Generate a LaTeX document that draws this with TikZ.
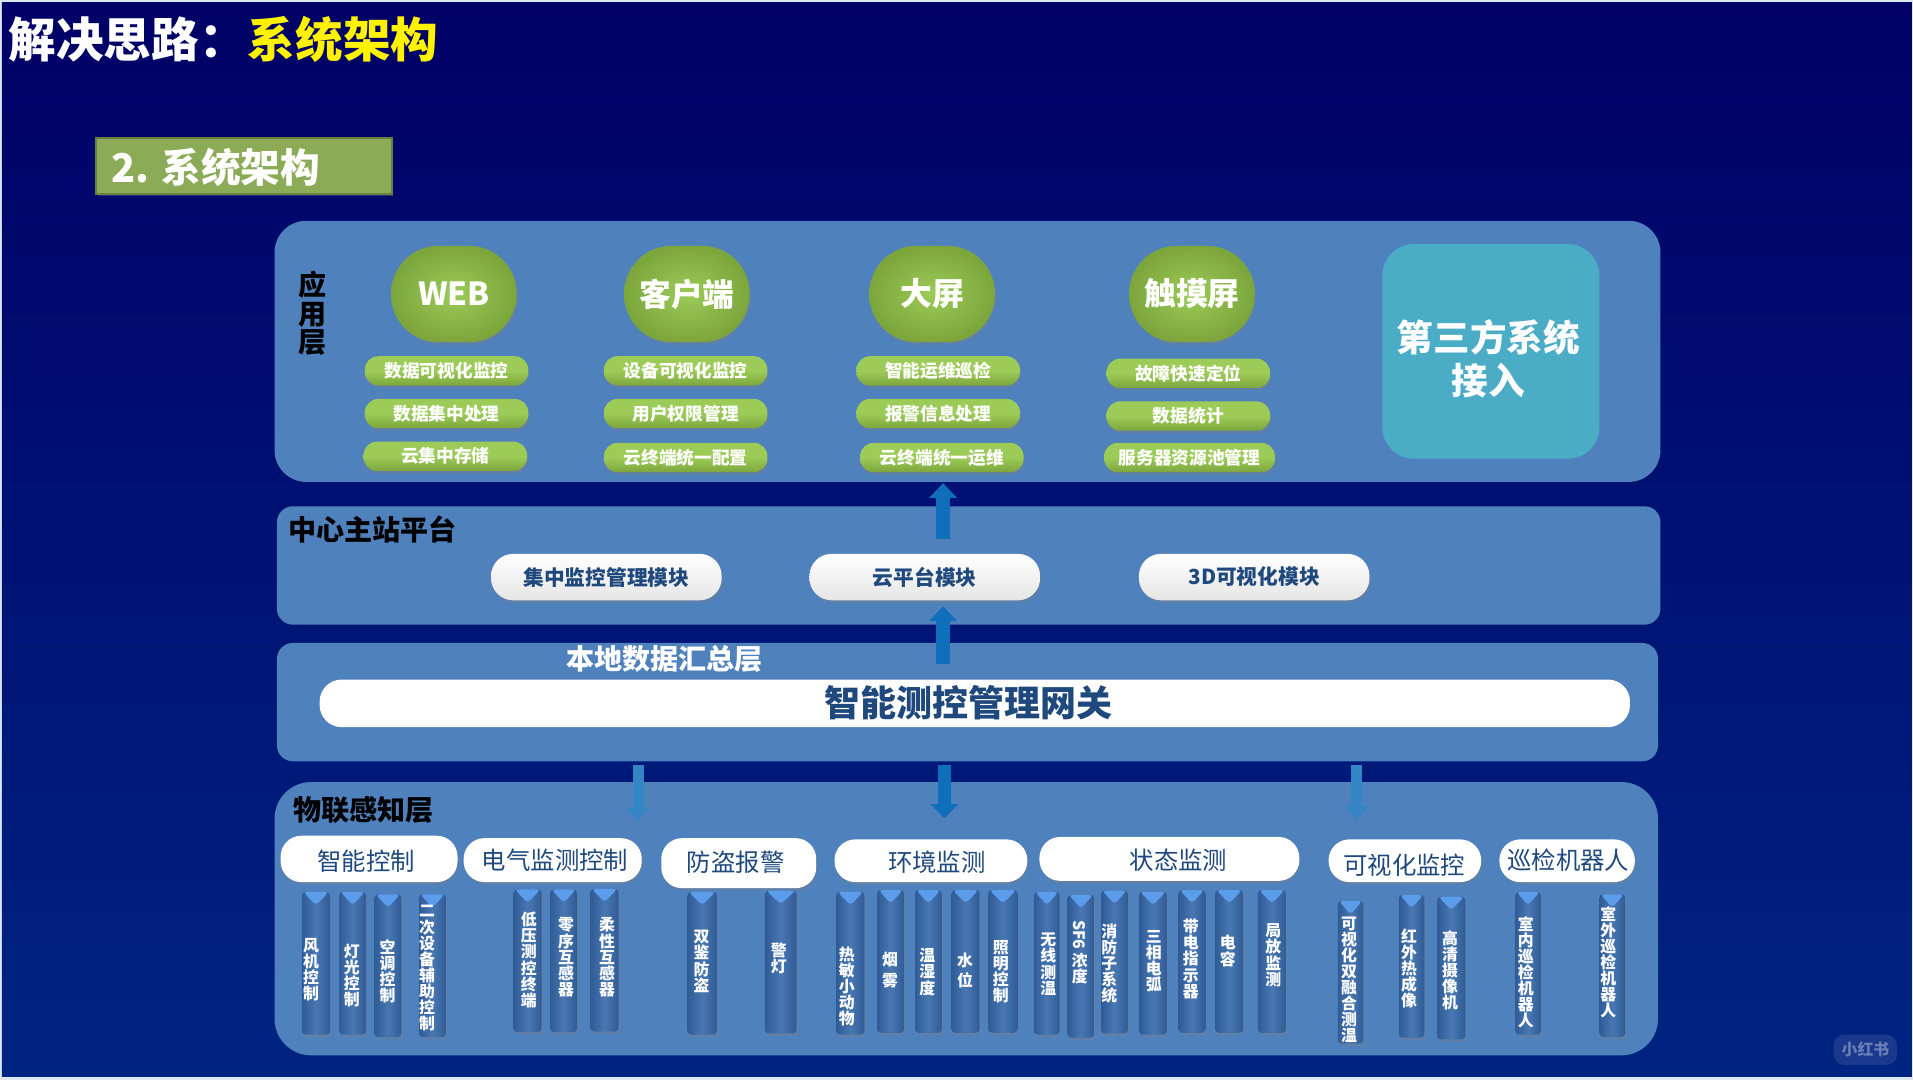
\documentclass[tikz,border=0pt]{standalone}
\usepackage{fontspec}
\setmainfont{Noto Sans CJK SC}
\usepackage{graphicx}
\usetikzlibrary{shapes.geometric, shadows, calc, arrows.meta}

\definecolor{pageEdge}{HTML}{DCE7F0}
\definecolor{navyTop}{HTML}{000066}
\definecolor{navyBottom}{HTML}{002482}
\definecolor{panelBlue}{HTML}{4F81BD}
\definecolor{tealBox}{HTML}{4BACC6}
\definecolor{titleGreen}{HTML}{8CAB57}
\definecolor{greenLight}{HTML}{9CCB58}
\definecolor{greenDark}{HTML}{7CA63C}
\definecolor{inkBlue}{HTML}{1F497D}
\definecolor{arrowBlue}{HTML}{0F6FBA}
\definecolor{barEdge}{HTML}{305C96}
\definecolor{barMid}{HTML}{4877B2}
\definecolor{tipBlue}{HTML}{5B9DEB}

\tikzset{
    panel/.style={fill=panelBlue, inner sep=0pt},
    glow/.style={drop shadow={shadow xshift=1pt, shadow yshift=-2pt, opacity=0.35}},
    bubble/.style={rounded corners=39pt, inner sep=0pt, minimum width=103pt, minimum height=79pt, inner color=greenLight, outer color=greenDark, text=white, font=\fontsize{26}{28}\selectfont\bfseries, glow},
    feature/.style={rounded corners=11pt, inner sep=0pt, minimum width=134pt, minimum height=24pt, top color=greenLight, bottom color=greenDark, middle color=greenLight, text=white, font=\fontsize{14.5}{16}\selectfont\bfseries, glow},
    module/.style={rounded corners=18pt, inner sep=0pt, minimum width=189pt, minimum height=38pt, top color=white, bottom color=white!90!black, text=inkBlue, font=\fontsize{17}{19}\selectfont\bfseries, glow},
    category/.style={rounded corners=17pt, inner sep=0pt, fill=white, glow},
    catlabel/.style={inner sep=0pt, text=inkBlue, font=\fontsize{20}{22}\selectfont},
    layername/.style={inner sep=0pt, text=black, font=\fontsize{23}{25}\selectfont\bfseries},
    vbar/.style={rectangle, rounded corners=3pt, inner sep=0pt, minimum height=117pt, left color=barEdge, right color=barEdge, middle color=barMid, glow,
        path picture={\fill[tipBlue] ($(path picture bounding box.north west)+(1,0)$) -- ($(path picture bounding box.north east)+(-1,0)$) -- ($(path picture bounding box.north)+(0,11)$) -- cycle;}},
    vtext/.style={inner sep=0pt, align=center, text=white, font=\fontsize{13}{13.2}\selectfont\bfseries},
    bigarrow/.style={draw=arrowBlue, line width=11pt, -{Triangle[width=22pt,length=12pt]}},
    thinarrow/.style={draw=arrowBlue!85!white, line width=9pt, -{Triangle[width=18pt,length=11pt]}}
}

\begin{document}
\begin{tikzpicture}[x=1pt, y=-1pt]
    \useasboundingbox (0,0) rectangle (1568,885.25);
    \fill[pageEdge] (0,0) rectangle (1568,885.25);
    \shade[top color=navyTop, bottom color=navyBottom] (1.5,2) rectangle (1567,882);

    % title
    \node[anchor=west, inner sep=0pt, text=white, font=\fontsize{39}{42}\selectfont\bfseries] (titleA) at (7,32) {解决思路：};
    \node[anchor=west, inner sep=0pt, text=yellow, font=\fontsize{39}{42}\selectfont\bfseries] (titleB) at (203,32) {系统架构};
    \node[draw=titleGreen!75!black, line width=1.5pt, fill=titleGreen, inner sep=0pt, minimum width=242pt, minimum height=46pt, glow] (secBox) at (200,136) {};
    \node[anchor=west, inner sep=0pt, text=white, font=\fontsize{32.5}{34}\selectfont\bfseries] (secText) at (91,137) {2. 系统架构};

    % layers
    \node[panel, rounded corners=26pt, minimum width=1136pt, minimum height=214pt] (appLayer) at (793,288) {};
    \node[panel, rounded corners=13pt, minimum width=1134pt, minimum height=97pt] (hubLayer) at (794,463.5) {};
    \node[panel, rounded corners=13pt, minimum width=1132pt, minimum height=97pt] (localLayer) at (793,575.5) {};
    \node[panel, rounded corners=30pt, minimum width=1134pt, minimum height=224pt] (iotLayer) at (792,753) {};

    % application layer
    \node[layername, align=center, font=\fontsize{23}{23.5}\selectfont\bfseries] (appName) at (256,257) {应\\用\\层};
    \node[bubble] (web) at (372,241) {WEB};
    \node[bubble] (client) at (563,241) {客户端};
    \node[bubble] (screen) at (764,241) {大屏};
    \node[bubble] (touch) at (977,241) {触摸屏};
    \node[feature] (webA) at (366,304) {数据可视化监控};
    \node[feature] (webB) at (366,339) {数据集中处理};
    \node[feature] (webC) at (365,374) {云集中存储};
    \node[feature] (clientA) at (562,304) {设备可视化监控};
    \node[feature] (clientB) at (562,339) {用户权限管理};
    \node[feature] (clientC) at (562,375) {云终端统一配置};
    \node[feature] (screenA) at (769,304) {智能运维巡检};
    \node[feature] (screenB) at (769,339) {报警信息处理};
    \node[feature] (screenC) at (772,375) {云终端统一运维};
    \node[feature] (touchA) at (974,306) {故障快速定位};
    \node[feature] (touchB) at (974,341) {数据统计};
    \node[feature, minimum width=140pt] (touchC) at (975,375) {服务器资源池管理};
    \node[fill=tealBox, rounded corners=26pt, inner sep=0pt, minimum width=178pt, minimum height=176pt] (thirdBox) at (1222,288) {};
    \node[inner sep=0pt, align=center, text=white, font=\fontsize{30}{35}\selectfont\bfseries] (thirdText) at (1220,294) {第三方系统\\接入};

    % center platform
    \node[layername, anchor=west] (hubName) at (236,434) {中心主站平台};
    \node[module] (monitor) at (497,473) {集中监控管理模块};
    \node[module] (cloud) at (758,473) {云平台模块};
    \node[module] (threeD) at (1028,473) {3D可视化模块};

    % local gateway
    \node[layername, anchor=west, text=white] (localName) at (464,540) {本地数据汇总层};
    \node[fill=white, rounded corners=18pt, inner sep=0pt, minimum width=1074pt, minimum height=39pt] (gateway) at (799,576.5) {};
    \node[inner sep=0pt, text=inkBlue, font=\fontsize{29.5}{31}\selectfont\bfseries] (gatewayText) at (794,576) {智能测控管理网关};

    % arrows
    \coordinate (upA) at (773,442);
    \coordinate (upAend) at (773,396);
    \coordinate (upB) at (773,544);
    \coordinate (upBend) at (773,497);
    \coordinate (downA) at (523,627);
    \coordinate (downAend) at (523,673);
    \coordinate (downB) at (774,627);
    \coordinate (downBend) at (774,671);
    \coordinate (downC) at (1112,627);
    \coordinate (downCend) at (1112,672);
    \draw[bigarrow] (upA) -- (upAend);
    \draw[bigarrow] (upB) -- (upBend);
    \draw[thinarrow] (downA) -- (downAend);
    \draw[bigarrow] (downB) -- (downBend);
    \draw[thinarrow] (downC) -- (downCend);

    % sensing layer
    \node[layername, anchor=west] (iotName) at (240,664) {物联感知层};
    \node[category, minimum width=145pt, minimum height=38pt] (catA) at (302.5,704) {};
    \node[category, minimum width=146pt, minimum height=36pt] (catB) at (453,705) {};
    \node[category, minimum width=127pt, minimum height=41pt] (catC) at (605.5,707.5) {};
    \node[category, minimum width=158pt, minimum height=35pt] (catD) at (763,705.5) {};
    \node[category, minimum width=213pt, minimum height=36pt] (catE) at (958.5,704) {};
    \node[category, minimum width=125pt, minimum height=35pt] (catF) at (1151.5,705.5) {};
    \node[category, minimum width=111pt, minimum height=35pt] (catG) at (1284.5,705.5) {};
    \node[catlabel] (catAt) at (300,706) {智能控制};
    \node[catlabel] (catBt) at (455,705) {电气监测控制};
    \node[catlabel] (catCt) at (603,707) {防盗报警};
    \node[catlabel] (catDt) at (768,707) {环境监测};
    \node[catlabel] (catEt) at (966,705) {状态监测};
    \node[catlabel] (catFt) at (1151,709) {可视化监控};
    \node[catlabel] (catGt) at (1285.5,705) {巡检机器人};

    % bars
    \node[vbar, minimum width=23pt] (barA) at (259,789.5) {};
    \node[vbar, minimum width=22pt] (barB) at (289,789.5) {};
    \node[vbar, minimum width=22pt] (barC) at (318,791.5) {};
    \node[vbar, minimum width=22pt] (barD) at (354.5,791.5) {};
    \node[vbar, minimum width=23pt] (barE) at (432.5,787.5) {};
    \node[vbar, minimum width=22pt] (barF) at (462,787.5) {};
    \node[vbar, minimum width=23pt] (barG) at (495.5,787) {};
    \node[vbar, minimum width=24pt] (barH) at (575.5,789.5) {};
    \node[vbar, minimum width=26pt] (barI) at (640,788.5) {};
    \node[vbar, minimum width=23pt] (barJ) at (697,789.5) {};
    \node[vbar, minimum width=22pt] (barK) at (730,788) {};
    \node[vbar, minimum width=22pt] (barL) at (761,788) {};
    \node[vbar, minimum width=23pt] (barM) at (791.5,788) {};
    \node[vbar, minimum width=24pt] (barN) at (822,788) {};
    \node[vbar, minimum width=21pt] (barO) at (858,789.5) {};
    \node[vbar, minimum width=22pt] (barP) at (886,792) {};
    \node[vbar, minimum width=22pt] (barQ) at (913.5,788.5) {};
    \node[vbar, minimum width=23pt] (barR) at (945,789.5) {};
    \node[vbar, minimum width=22pt] (barS) at (977,788) {};
    \node[vbar, minimum width=23pt] (barT) at (1007.5,788) {};
    \node[vbar, minimum width=23pt] (barU) at (1042.5,788) {};
    \node[vbar, minimum width=21pt] (barV) at (1107,797) {};
    \node[vbar, minimum width=21pt] (barW) at (1157,792) {};
    \node[vbar, minimum width=23pt] (barX) at (1189.5,793.5) {};
    \node[vbar, minimum width=21pt] (barY) at (1252.5,789.5) {};
    \node[vbar, minimum width=21pt] (barZ) at (1321.5,791.5) {};

    \node[vtext] (txtA) at (255,795) {风\\机\\控\\制};
    \node[vtext] (txtB) at (288.4,799.7) {灯\\光\\控\\制};
    \node[vtext] (txtC) at (317.7,796) {空\\调\\控\\制};
    \node[vtext] (txtD) at (350,793.7) {二\\次\\设\\备\\辅\\助\\控\\制};
    \node[vtext] (txtE) at (433.5,786.8) {低\\压\\测\\控\\终\\端};
    \node[vtext] (txtF) at (464,784.7) {零\\序\\互\\感\\器};
    \node[vtext] (txtG) at (497.5,784.7) {柔\\性\\互\\感\\器};
    \node[vtext] (txtH) at (575,788) {双\\鉴\\防\\盗};
    \node[vtext] (txtI) at (638.4,785.7) {警\\灯};
    \node[vtext] (txtJ) at (694,808.4) {热\\敏\\小\\动\\物};
    \node[vtext] (txtK) at (729.6,795) {烟\\[4pt]雾};
    \node[vtext] (txtL) at (760,796.7) {温\\湿\\度};
    \node[vtext] (txtM) at (791,795.6) {水\\[3pt]位};
    \node[vtext] (txtN) at (820.4,796.7) {照\\明\\控\\制};
    \node[vtext] (txtO) at (859.3,790.4) {无\\线\\测\\温};
    \node[vtext] (txtP) at (885,780.5) {\rotatebox{-90}{SF6}\\[2pt]浓\\度};
    \node[vtext] (txtQ) at (909.3,789.6) {消\\防\\子\\系\\统};
    \node[vtext] (txtR) at (945.7,788) {三\\相\\电\\弧};
    \node[vtext] (txtS) at (976,786) {带\\电\\指\\示\\器};
    \node[vtext] (txtT) at (1006.4,779.5) {电\\容};
    \node[vtext] (txtU) at (1043.7,783) {局\\放\\监\\测};
    \node[vtext] (txtV) at (1105.8,803) {可\\视\\化\\双\\融\\合\\测\\温};
    \node[vtext] (txtW) at (1154.9,793.7) {红\\外\\热\\成\\像};
    \node[vtext] (txtX) at (1188.5,795.6) {高\\清\\摄\\像\\机};
    \node[vtext] (txtY) at (1250.6,797) {室\\内\\巡\\检\\机\\器\\人};
    \node[vtext] (txtZ) at (1318.3,788.8) {室\\外\\巡\\检\\机\\器\\人};

    % watermark
    \node[fill=white, fill opacity=0.1, text opacity=0.35, rounded corners=9pt, inner sep=0pt, minimum width=52pt, minimum height=25pt, text=white, font=\fontsize{13}{14}\selectfont\bfseries] (mark) at (1529,860.5) {小红书};
\end{tikzpicture}
\end{document}
